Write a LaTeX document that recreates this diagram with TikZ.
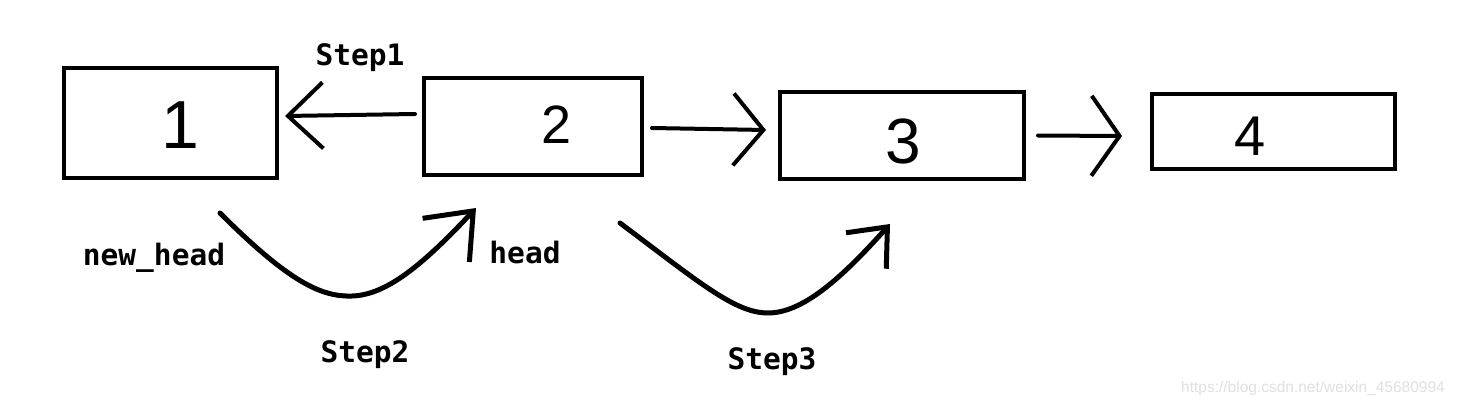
\documentclass[tikz,border=0pt]{standalone}
\usepackage{fontspec}
\setmainfont{Liberation Sans}
\newfontfamily\lblfont{DejaVu Sans Mono}
\usetikzlibrary{arrows.meta}
\tikzset{
  box/.style={draw=black, line width=4pt, rectangle, inner sep=0pt},
  digit/.style={inner sep=0pt, font=\fontsize{#1}{#1}\selectfont},
  lbl/.style={inner sep=0pt, font=\lblfont\bfseries\fontsize{29.5}{29.5}\selectfont},
  link/.style={line width=4pt, line cap=round, line join=round},
  curvearrow/.style={line width=5pt, line cap=round, line join=round},
  wm/.style={inner sep=0pt, text=black!12, font=\fontsize{15.5}{15.5}\selectfont}
}
\begin{document}
\begin{tikzpicture}[x=1pt,y=-1pt]
  \useasboundingbox (0,0) rectangle (1459,407);
  \fill[white] (0,0) rectangle (1459,407);

  % boxes
  \node[box, minimum width=213pt, minimum height=110pt] (b1) at (170.5,123) {};
  \node[box, minimum width=218pt, minimum height=97pt] (b2) at (533,126.5) {};
  \node[box, minimum width=244pt, minimum height=87pt] (b3) at (902,135.5) {};
  \node[box, minimum width=243pt, minimum height=75pt] (b4) at (1273.5,131.5) {};

  % digits
  \node[digit=68] (d1) at (180,125) {1};
  \node[digit=54] (d2) at (557,125) {2};
  \node[digit=64] (d3) at (903,141) {3};
  \node[digit=56] (d4) at (1250,136) {4};

  % straight arrows between boxes
  \draw[link, -{Straight Barb[length=35pt,width=66pt]}]
    ([xshift=-7pt,yshift=12.5pt]b2.west) -- ([xshift=6pt,yshift=7pt]b1.east);
  \draw[link, -{Straight Barb[length=30pt,width=72pt]}]
    ([xshift=8pt,yshift=-1.5pt]b2.east) -- ([xshift=-12pt,yshift=5.5pt]b3.west);
  \draw[link, -{Straight Barb[length=28pt,width=80pt]}]
    ([xshift=12pt]b3.east) -- ([xshift=-28pt,yshift=-4.5pt]b4.west);

  % curved arrows
  \coordinate (c2s) at (220,213);
  \coordinate (c2b) at (352,296);
  \coordinate (c2e) at (476,208);
  \coordinate (c3s) at (620,223);
  \coordinate (c3b) at (768,313);
  \coordinate (c3e) at (890,224);
  \draw[curvearrow, -{Straight Barb[length=40pt,width=64pt]}]
    (c2s) .. controls (290,283) and (322,297) .. (c2b)
          .. controls (385,295) and (420,268) .. (c2e);
  \draw[curvearrow, -{Straight Barb[length=32pt,width=54pt]}]
    (c3s) .. controls (700,283) and (735,313) .. (c3b)
          .. controls (802,313) and (840,280) .. (c3e);

  % labels
  \node[lbl] (s1) at (360,58) {Step1};
  \node[lbl] (nh) at (154,258) {new\_head};
  \node[lbl] (hd) at (525,252) {head};
  \node[lbl] (s2) at (365,355) {Step2};
  \node[lbl] (s3) at (772,362) {Step3};

  % watermark
  \node[wm] (w) at (1313,388) {https://blog.csdn.net/weixin\_45680994};
\end{tikzpicture}
\end{document}
